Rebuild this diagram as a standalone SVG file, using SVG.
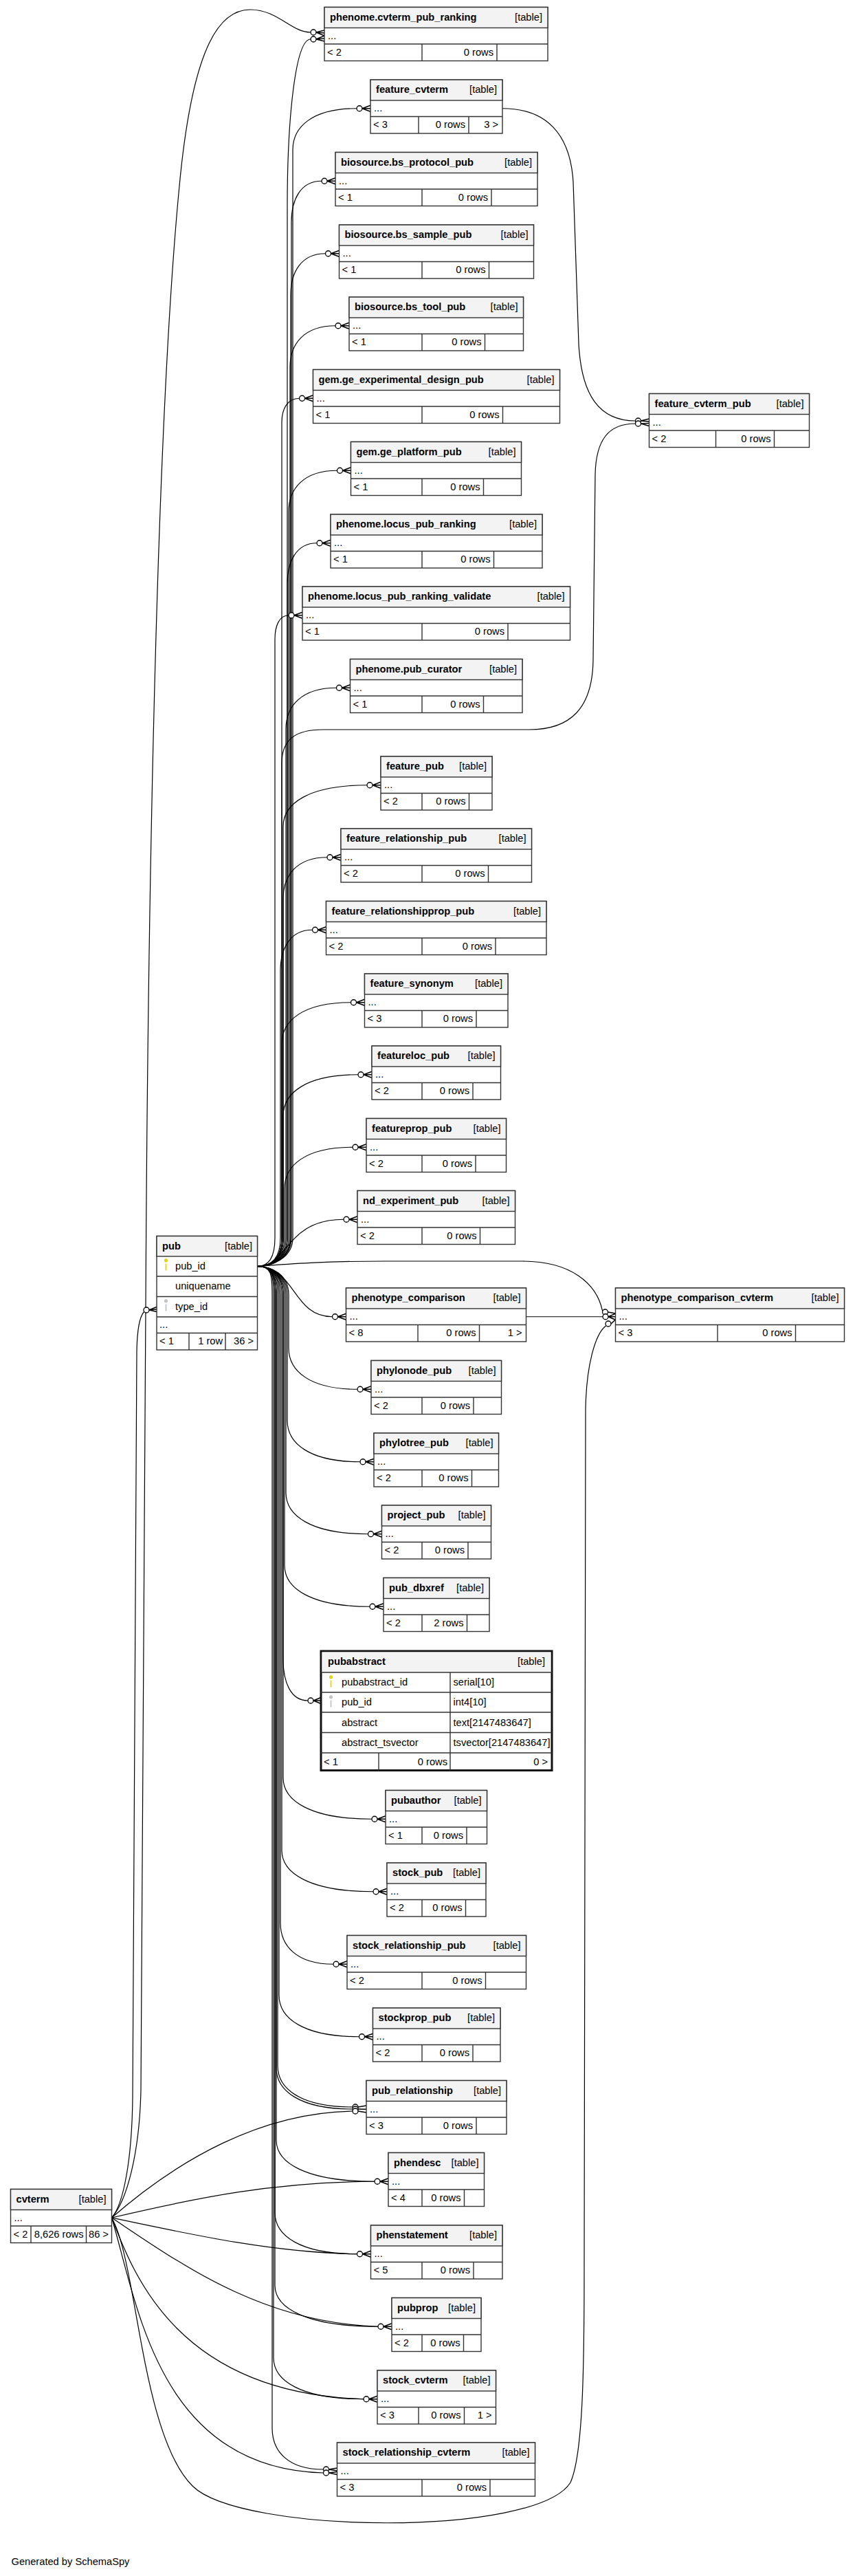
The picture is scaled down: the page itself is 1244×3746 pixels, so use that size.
<svg xmlns="http://www.w3.org/2000/svg" width="1244" height="3746" viewBox="0 0 1244 3746">
<style>
text{font-family:"Liberation Sans",Arial,Helvetica,sans-serif;font-size:14.67px;fill:#000}
.t{font-weight:bold}
.k{text-anchor:end}
.b{fill:#fff;stroke:#333;stroke-width:1.4}
.h{fill:#f3f3f3;stroke:#333;stroke-width:1.4}
.g{fill:none;stroke:#333;stroke-width:1.4}
.bb{fill:#fff;stroke:#111;stroke-width:3}
.e{fill:none;stroke:#000;stroke-width:1.2}
.c{fill:#fff;stroke:#000;stroke-width:1.3}
.cr{fill:none;stroke:#000;stroke-width:1.6}
.ky{fill:#e3d400}
.kg{fill:#c4c4c4}
</style>
<rect width="1244" height="3746" fill="#fff"/>
<g id="connectors">
<path class="e" d="M374.5 1841.5 C395 1841.5 418 1830 418 1800 L418 300 C418 170 430 57 452 57"/>
<path class="e" d="M374.5 1841.5 C395 1841.5 426 1830 426 1800 L426 217.75 C426 184.75 453.9 157.75 519 157.75"/>
<path class="e" d="M374.5 1841.5 C395 1841.5 424 1830 424 1800 L424 323.25 C424 290.25 437.2 263.25 468 263.25"/>
<path class="e" d="M374.5 1841.5 C395 1841.5 423 1830 423 1800 L423 428.75 C423 395.75 438.2 368.75 473.5 368.75"/>
<path class="e" d="M374.5 1841.5 C395 1841.5 422 1830 422 1800 L422 533.75 C422 500.75 441.8 473.75 488 473.75"/>
<path class="e" d="M374.5 1841.5 C395 1841.5 410 1830 410 1800 L410 614.25 C410 595.25 417.7 579.25 435.5 579.25"/>
<path class="e" d="M374.5 1841.5 C395 1841.5 420 1830 420 1800 L420 744.25 C420 711.25 441.2 684.25 490.5 684.25"/>
<path class="e" d="M374.5 1841.5 C395 1841.5 418 1830 418 1800 L418 849.75 C418 816.75 430.9 789.75 461 789.75"/>
<path class="e" d="M374.5 1841.5 C390 1841.5 400 1830 400 1800 L400 929.75 C400 910.75 406 894.75 420 894.75"/>
<path class="e" d="M374.5 1841.5 C395 1841.5 416 1830 416 1800 L416 1060.25 C416 1027.25 438 1000.25 489.5 1000.25"/>
<path class="e" d="M374.5 1841.5 C395 1841.5 412 1830 412 1800 L412 1201.75 C412 1168.75 448.6 1141.75 534 1141.75"/>
<path class="e" d="M374.5 1841.5 C395 1841.5 412 1830 412 1800 L412 1306.75 C412 1273.75 431.2 1246.75 476 1246.75"/>
<path class="e" d="M374.5 1841.5 C395 1841.5 408 1830 408 1800 L408 1412.25 C408 1379.25 422 1352.25 454.5 1352.25"/>
<path class="e" d="M374.5 1841.5 C395 1841.5 410 1830 410 1800 L410 1517.75 C410 1484.75 440.2 1457.75 510.5 1457.75"/>
<path class="e" d="M374.5 1841.5 C395 1841.5 412 1830 412 1800 L412 1622.75 C412 1589.75 444.7 1562.75 521 1562.75"/>
<path class="e" d="M374.5 1841.5 C395 1841.5 414 1830 414 1800 L414 1728.25 C414 1695.25 443.7 1668.25 513 1668.25"/>
<path class="e" d="M374.5 1841.5 C420 1841.5 415 1773.25 500 1773.25"/>
<path class="e" d="M374.5 1841.5 C395 1841.5 410 1830 410 1800 L410 1110 C410 1075 430 1061 470 1061 L770 1061 C830 1061 862 1030 863 960 L866 690 C867 640 885 616 924.5 616"/>
<path class="e" d="M374.5 1841.5 C420 1838 470 1834 560 1834 L760 1834 C830 1834 868 1866 876.5 1906"/>
<path class="e" d="M374.5 1841.5 C430 1841.5 425 1914.75 483.5 1914.75"/>
<path class="e" d="M374.5 1841.5 C395 1841.5 420 1853 420 1883 L420 1960.25 C420 1993.25 450 2020.25 520 2020.25"/>
<path class="e" d="M374.5 1841.5 C395 1841.5 418 1853 418 1883 L418 2065.75 C418 2098.75 449.8 2125.75 524 2125.75"/>
<path class="e" d="M374.5 1841.5 C395 1841.5 416 1853 416 1883 L416 2170.75 C416 2203.75 451.9 2230.75 535.5 2230.75"/>
<path class="e" d="M374.5 1841.5 C395 1841.5 414 1853 414 1883 L414 2276.25 C414 2309.25 451.2 2336.25 538 2336.25"/>
<path class="e" d="M374.5 1841.5 C395 1841.5 412 1853 412 1883 L412 2413 C412 2446 422.8 2473 448 2473"/>
<path class="e" d="M374.5 1841.5 C395 1841.5 412 1853 412 1883 L412 2585.25 C412 2618.25 450.7 2645.25 541 2645.25"/>
<path class="e" d="M374.5 1841.5 C395 1841.5 410 1853 410 1883 L410 2690.75 C410 2723.75 449.9 2750.75 543 2750.75"/>
<path class="e" d="M374.5 1841.5 C395 1841.5 408 1853 408 1883 L408 2796.25 C408 2829.25 431.1 2856.25 485 2856.25"/>
<path class="e" d="M374.5 1841.5 C395 1841.5 406 1853 406 1883 L406 2901.75 C406 2934.75 441 2961.75 522.5 2961.75"/>
<path class="e" d="M374.5 1841.5 C395 1841.5 404 1853 404 1883 L404 3004 C404 3037 436.7 3064 513 3064"/>
<path class="e" d="M374.5 1841.5 C395 1841.5 402 1853 402 1883 L402 3007 C402 3040 435.3 3067 513 3067"/>
<path class="e" d="M374.5 1841.5 C395 1841.5 402 1853 402 1883 L402 3112.25 C402 3145.25 444.9 3172.25 545 3172.25"/>
<path class="e" d="M374.5 1841.5 C395 1841.5 400 1853 400 1883 L400 3217.75 C400 3250.75 435.9 3277.75 519.5 3277.75"/>
<path class="e" d="M374.5 1841.5 C395 1841.5 400 1853 400 1883 L400 3323.25 C400 3356.25 445 3383.25 550 3383.25"/>
<path class="e" d="M374.5 1841.5 C395 1841.5 398 1853 398 1883 L398 3428.75 C398 3461.75 437.3 3488.75 529 3488.75"/>
<path class="e" d="M374.5 1841.5 C395 1841.5 396 1853 396 1883 L396 3531 C396 3564 418.4 3591 470.5 3591"/>
<path class="e" d="M731 157.75 C795 157.75 830 195 834 265 L842 500 C846 575 872 612 924.5 612"/>
<path class="e" d="M765.5 1914.75 L877 1914.75"/>
<path class="e" d="M162.5 3225 C180 3205 192 3140 193 3050 L199 1965 C199.5 1935 203 1915 209.5 1907.5"/>
<path class="e" d="M162.5 3225 C185 3200 203 3130 205 3040 L212 1900 C215 1300 228 600 262 260 C282 60 322 14 364 14 C404 14 424 47 452 47"/>
<path class="e" d="M162.5 3225 C260 3140 380 3072 513 3070"/>
<path class="e" d="M162.5 3225 C290 3195 400 3173 545 3172.25"/>
<path class="e" d="M162.5 3225 C280 3250 400 3276 519.5 3277.75"/>
<path class="e" d="M162.5 3225 C260 3290 380 3378 550 3383.25"/>
<path class="e" d="M162.5 3225 C195 3310 260 3480 529 3488.75"/>
<path class="e" d="M162.5 3225 C200 3350 230 3590 470.5 3596"/>
<path class="e" d="M162.5 3225 C200 3290 205 3540 280 3615 C350 3685 780 3690 830 3610 C848 3570 850 3450 850 3300 L852 2050 C853 1985 866 1940 881.5 1928"/>
<g id="ends">
<circle class="c" cx="456" cy="47" r="4"/><circle class="c" cx="456" cy="57" r="4"/>
<path class="cr" d="M460 47 L472 44 M460 47 L472 48 M460 47 L472 52 M460 57 L472 52 M460 57 L472 56 M460 57 L472 60"/>
<circle class="c" cx="523" cy="157.75" r="4"/><path class="cr" d="M527 157.75 L539 153.25 M527 157.75 L539 157.75 M527 157.75 L539 162.25"/>
<circle class="c" cx="472" cy="263.25" r="4"/><path class="cr" d="M476 263.25 L488 258.75 M476 263.25 L488 263.25 M476 263.25 L488 267.75"/>
<circle class="c" cx="477.5" cy="368.75" r="4"/><path class="cr" d="M481.5 368.75 L493.5 364.25 M481.5 368.75 L493.5 368.75 M481.5 368.75 L493.5 373.25"/>
<circle class="c" cx="492" cy="473.75" r="4"/><path class="cr" d="M496 473.75 L508 469.25 M496 473.75 L508 473.75 M496 473.75 L508 478.25"/>
<circle class="c" cx="439.5" cy="579.25" r="4"/><path class="cr" d="M443.5 579.25 L455.5 574.75 M443.5 579.25 L455.5 579.25 M443.5 579.25 L455.5 583.75"/>
<circle class="c" cx="494.5" cy="684.25" r="4"/><path class="cr" d="M498.5 684.25 L510.5 679.75 M498.5 684.25 L510.5 684.25 M498.5 684.25 L510.5 688.75"/>
<circle class="c" cx="465" cy="789.75" r="4"/><path class="cr" d="M469 789.75 L481 785.25 M469 789.75 L481 789.75 M469 789.75 L481 794.25"/>
<circle class="c" cx="424" cy="894.75" r="4"/><path class="cr" d="M428 894.75 L440 890.25 M428 894.75 L440 894.75 M428 894.75 L440 899.25"/>
<circle class="c" cx="493.5" cy="1000.25" r="4"/><path class="cr" d="M497.5 1000.25 L509.5 995.75 M497.5 1000.25 L509.5 1000.25 M497.5 1000.25 L509.5 1004.75"/>
<circle class="c" cx="538" cy="1141.75" r="4"/><path class="cr" d="M542 1141.75 L554 1137.25 M542 1141.75 L554 1141.75 M542 1141.75 L554 1146.25"/>
<circle class="c" cx="480" cy="1246.75" r="4"/><path class="cr" d="M484 1246.75 L496 1242.25 M484 1246.75 L496 1246.75 M484 1246.75 L496 1251.25"/>
<circle class="c" cx="458.5" cy="1352.25" r="4"/><path class="cr" d="M462.5 1352.25 L474.5 1347.75 M462.5 1352.25 L474.5 1352.25 M462.5 1352.25 L474.5 1356.75"/>
<circle class="c" cx="514.5" cy="1457.75" r="4"/><path class="cr" d="M518.5 1457.75 L530.5 1453.25 M518.5 1457.75 L530.5 1457.75 M518.5 1457.75 L530.5 1462.25"/>
<circle class="c" cx="525" cy="1562.75" r="4"/><path class="cr" d="M529 1562.75 L541 1558.25 M529 1562.75 L541 1562.75 M529 1562.75 L541 1567.25"/>
<circle class="c" cx="517" cy="1668.25" r="4"/><path class="cr" d="M521 1668.25 L533 1663.75 M521 1668.25 L533 1668.25 M521 1668.25 L533 1672.75"/>
<circle class="c" cx="504" cy="1773.25" r="4"/><path class="cr" d="M508 1773.25 L520 1768.75 M508 1773.25 L520 1773.25 M508 1773.25 L520 1777.75"/>
<circle class="c" cx="928.5" cy="612" r="4"/><circle class="c" cx="928.5" cy="616" r="4"/>
<path class="cr" d="M932.5 612 L944.5 609 M932.5 612 L944.5 613 M932.5 616 L944.5 615.5 M932.5 616 L944.5 619.5"/>
<circle class="c" cx="487.5" cy="1914.75" r="4"/><path class="cr" d="M491.5 1914.75 L503.5 1910.25 M491.5 1914.75 L503.5 1914.75 M491.5 1914.75 L503.5 1919.25"/>
<circle class="c" cx="880.5" cy="1908" r="4"/><circle class="c" cx="881" cy="1914.75" r="4"/><circle class="c" cx="885" cy="1925" r="4"/>
<path class="cr" d="M884.5 1908 L895.5 1910 M885 1914.75 L895.5 1910.25 M885 1914.75 L895.5 1914.75 M885 1914.75 L895.5 1919.25 M889 1925 L895.5 1919"/>
<circle class="c" cx="524" cy="2020.25" r="4"/><path class="cr" d="M528 2020.25 L540 2015.75 M528 2020.25 L540 2020.25 M528 2020.25 L540 2024.75"/>
<circle class="c" cx="528" cy="2125.75" r="4"/><path class="cr" d="M532 2125.75 L544 2121.25 M532 2125.75 L544 2125.75 M532 2125.75 L544 2130.25"/>
<circle class="c" cx="539.5" cy="2230.75" r="4"/><path class="cr" d="M543.5 2230.75 L555.5 2226.25 M543.5 2230.75 L555.5 2230.75 M543.5 2230.75 L555.5 2235.25"/>
<circle class="c" cx="542" cy="2336.25" r="4"/><path class="cr" d="M546 2336.25 L558 2331.75 M546 2336.25 L558 2336.25 M546 2336.25 L558 2340.75"/>
<circle class="c" cx="452" cy="2473" r="4"/><path class="cr" d="M456 2473 L467 2468.5 M456 2473 L467 2473 M456 2473 L467 2477.5"/>
<circle class="c" cx="545" cy="2645.25" r="4"/><path class="cr" d="M549 2645.25 L561 2640.75 M549 2645.25 L561 2645.25 M549 2645.25 L561 2649.75"/>
<circle class="c" cx="547" cy="2750.75" r="4"/><path class="cr" d="M551 2750.75 L563 2746.25 M551 2750.75 L563 2750.75 M551 2750.75 L563 2755.25"/>
<circle class="c" cx="489" cy="2856.25" r="4"/><path class="cr" d="M493 2856.25 L505 2851.75 M493 2856.25 L505 2856.25 M493 2856.25 L505 2860.75"/>
<circle class="c" cx="526.5" cy="2961.75" r="4"/><path class="cr" d="M530.5 2961.75 L542.5 2957.25 M530.5 2961.75 L542.5 2961.75 M530.5 2961.75 L542.5 2966.25"/>
<circle class="c" cx="517" cy="3064" r="4"/><circle class="c" cx="517" cy="3067" r="4"/><circle class="c" cx="517" cy="3070" r="4"/>
<path class="cr" d="M521 3064 L533 3062 M521 3067 L533 3067.25 M521 3070 L533 3072"/>
<circle class="c" cx="549" cy="3172.25" r="4"/><path class="cr" d="M553 3172.25 L565 3167.75 M553 3172.25 L565 3172.25 M553 3172.25 L565 3176.75"/>
<circle class="c" cx="523.5" cy="3277.75" r="4"/><path class="cr" d="M527.5 3277.75 L539.5 3273.25 M527.5 3277.75 L539.5 3277.75 M527.5 3277.75 L539.5 3282.25"/>
<circle class="c" cx="554" cy="3383.25" r="4"/><path class="cr" d="M558 3383.25 L570 3378.75 M558 3383.25 L570 3383.25 M558 3383.25 L570 3387.75"/>
<circle class="c" cx="533" cy="3488.75" r="4"/><path class="cr" d="M537 3488.75 L549 3484.25 M537 3488.75 L549 3488.75 M537 3488.75 L549 3493.25"/>
<circle class="c" cx="474.5" cy="3591" r="4"/><circle class="c" cx="474.5" cy="3596" r="4"/>
<path class="cr" d="M478.5 3591 L490.5 3589 M478.5 3591 L490.5 3593 M478.5 3596 L490.5 3594.5 M478.5 3596 L490.5 3598.5"/>
<circle class="c" cx="213" cy="1905" r="4"/><path class="cr" d="M217 1905 L228 1900.5 M217 1905 L228 1904 M217 1905 L228 1907.5"/>
</g>
</g>

<g id="n-phenome-cvterm_pub_ranking"><rect class="b" x="472" y="10.5" width="325" height="78"/><rect class="h" x="472" y="10.5" width="325" height="30"/><path class="g" d="M472 64H797M614 64V88.5M723 64V88.5"/><text class="t" x="480" y="29.5">phenome.cvterm_pub_ranking</text><text class="k" x="789" y="29.5">[table]</text><text x="477" y="56.5">...</text><text x="476" y="80.5">&lt; 2</text><text class="k" x="718" y="80.5">0 rows</text></g>
<g id="n-feature_cvterm"><rect class="b" x="539" y="116" width="192" height="78"/><rect class="h" x="539" y="116" width="192" height="30"/><path class="g" d="M539 169.5H731M609 169.5V194M682 169.5V194"/><text class="t" x="547" y="135">feature_cvterm</text><text class="k" x="723" y="135">[table]</text><text x="544" y="162">...</text><text x="543" y="186">&lt; 3</text><text class="k" x="677" y="186">0 rows</text><text class="k" x="725" y="186">3 &gt;</text></g>
<g id="n-bs_protocol_pub"><rect class="b" x="488" y="221.5" width="294" height="78"/><rect class="h" x="488" y="221.5" width="294" height="30"/><path class="g" d="M488 275H782M614 275V299.5M715 275V299.5"/><text class="t" x="496" y="240.5">biosource.bs_protocol_pub</text><text class="k" x="774" y="240.5">[table]</text><text x="493" y="267.5">...</text><text x="492" y="291.5">&lt; 1</text><text class="k" x="710" y="291.5">0 rows</text></g>
<g id="n-bs_sample_pub"><rect class="b" x="493.5" y="327" width="283" height="78"/><rect class="h" x="493.5" y="327" width="283" height="30"/><path class="g" d="M493.5 380.5H776.5M614 380.5V405M711.5 380.5V405"/><text class="t" x="501.5" y="346">biosource.bs_sample_pub</text><text class="k" x="768.5" y="346">[table]</text><text x="498.5" y="373">...</text><text x="497.5" y="397">&lt; 1</text><text class="k" x="706.5" y="397">0 rows</text></g>
<g id="n-bs_tool_pub"><rect class="b" x="508" y="432" width="253.5" height="78"/><rect class="h" x="508" y="432" width="253.5" height="30"/><path class="g" d="M508 485.5H761.5M614 485.5V510M705.5 485.5V510"/><text class="t" x="516" y="451">biosource.bs_tool_pub</text><text class="k" x="753.5" y="451">[table]</text><text x="513" y="478">...</text><text x="512" y="502">&lt; 1</text><text class="k" x="700.5" y="502">0 rows</text></g>
<g id="n-ge_experimental_design_pub"><rect class="b" x="455.5" y="537.5" width="359" height="78"/><rect class="h" x="455.5" y="537.5" width="359" height="30"/><path class="g" d="M455.5 591H814.5M614 591V615.5M731.5 591V615.5"/><text class="t" x="463.5" y="556.5">gem.ge_experimental_design_pub</text><text class="k" x="806.5" y="556.5">[table]</text><text x="460.5" y="583.5">...</text><text x="459.5" y="607.5">&lt; 1</text><text class="k" x="726.5" y="607.5">0 rows</text></g>
<g id="n-ge_platform_pub"><rect class="b" x="510.5" y="642.5" width="248" height="78"/><rect class="h" x="510.5" y="642.5" width="248" height="30"/><path class="g" d="M510.5 696H758.5M614 696V720.5M703.5 696V720.5"/><text class="t" x="518.5" y="661.5">gem.ge_platform_pub</text><text class="k" x="750.5" y="661.5">[table]</text><text x="515.5" y="688.5">...</text><text x="514.5" y="712.5">&lt; 1</text><text class="k" x="698.5" y="712.5">0 rows</text></g>
<g id="n-locus_pub_ranking"><rect class="b" x="481" y="748" width="308" height="78"/><rect class="h" x="481" y="748" width="308" height="30"/><path class="g" d="M481 801.5H789M614 801.5V826M718.5 801.5V826"/><text class="t" x="489" y="767">phenome.locus_pub_ranking</text><text class="k" x="781" y="767">[table]</text><text x="486" y="794">...</text><text x="485" y="818">&lt; 1</text><text class="k" x="713.5" y="818">0 rows</text></g>
<g id="n-locus_pub_ranking_validate"><rect class="b" x="440" y="853" width="389.5" height="78"/><rect class="h" x="440" y="853" width="389.5" height="30"/><path class="g" d="M440 906.5H829.5M614 906.5V931M739 906.5V931"/><text class="t" x="448" y="872">phenome.locus_pub_ranking_validate</text><text class="k" x="821.5" y="872">[table]</text><text x="445" y="899">...</text><text x="444" y="923">&lt; 1</text><text class="k" x="734" y="923">0 rows</text></g>
<g id="n-pub_curator"><rect class="b" x="509.5" y="958.5" width="250.5" height="78"/><rect class="h" x="509.5" y="958.5" width="250.5" height="30"/><path class="g" d="M509.5 1012H760M614 1012V1036.5M703.5 1012V1036.5"/><text class="t" x="517.5" y="977.5">phenome.pub_curator</text><text class="k" x="752" y="977.5">[table]</text><text x="514.5" y="1004.5">...</text><text x="513.5" y="1028.5">&lt; 1</text><text class="k" x="698.5" y="1028.5">0 rows</text></g>
<g id="n-feature_pub"><rect class="b" x="554" y="1100" width="162" height="78"/><rect class="h" x="554" y="1100" width="162" height="30"/><path class="g" d="M554 1153.5H716M614 1153.5V1178M682.5 1153.5V1178"/><text class="t" x="562" y="1119">feature_pub</text><text class="k" x="708" y="1119">[table]</text><text x="559" y="1146">...</text><text x="558" y="1170">&lt; 2</text><text class="k" x="677.5" y="1170">0 rows</text></g>
<g id="n-feature_relationship_pub"><rect class="b" x="496" y="1205" width="277.5" height="78"/><rect class="h" x="496" y="1205" width="277.5" height="30"/><path class="g" d="M496 1258.5H773.5M614 1258.5V1283M710.5 1258.5V1283"/><text class="t" x="504" y="1224">feature_relationship_pub</text><text class="k" x="765.5" y="1224">[table]</text><text x="501" y="1251">...</text><text x="500" y="1275">&lt; 2</text><text class="k" x="705.5" y="1275">0 rows</text></g>
<g id="n-feature_relationshipprop_pub"><rect class="b" x="474.5" y="1310.5" width="320.5" height="78"/><rect class="h" x="474.5" y="1310.5" width="320.5" height="30"/><path class="g" d="M474.5 1364H795M614 1364V1388.5M721 1364V1388.5"/><text class="t" x="482.5" y="1329.5">feature_relationshipprop_pub</text><text class="k" x="787" y="1329.5">[table]</text><text x="479.5" y="1356.5">...</text><text x="478.5" y="1380.5">&lt; 2</text><text class="k" x="716" y="1380.5">0 rows</text></g>
<g id="n-feature_synonym"><rect class="b" x="530.5" y="1416" width="208.5" height="78"/><rect class="h" x="530.5" y="1416" width="208.5" height="30"/><path class="g" d="M530.5 1469.5H739M614 1469.5V1494M693 1469.5V1494"/><text class="t" x="538.5" y="1435">feature_synonym</text><text class="k" x="731" y="1435">[table]</text><text x="535.5" y="1462">...</text><text x="534.5" y="1486">&lt; 3</text><text class="k" x="688" y="1486">0 rows</text></g>
<g id="n-featureloc_pub"><rect class="b" x="541" y="1521" width="187.5" height="78"/><rect class="h" x="541" y="1521" width="187.5" height="30"/><path class="g" d="M541 1574.5H728.5M614 1574.5V1599M688 1574.5V1599"/><text class="t" x="549" y="1540">featureloc_pub</text><text class="k" x="720.5" y="1540">[table]</text><text x="546" y="1567">...</text><text x="545" y="1591">&lt; 2</text><text class="k" x="683" y="1591">0 rows</text></g>
<g id="n-featureprop_pub"><rect class="b" x="533" y="1626.5" width="203.5" height="78"/><rect class="h" x="533" y="1626.5" width="203.5" height="30"/><path class="g" d="M533 1680H736.5M614 1680V1704.5M692 1680V1704.5"/><text class="t" x="541" y="1645.5">featureprop_pub</text><text class="k" x="728.5" y="1645.5">[table]</text><text x="538" y="1672.5">...</text><text x="537" y="1696.5">&lt; 2</text><text class="k" x="687" y="1696.5">0 rows</text></g>
<g id="n-nd_experiment_pub"><rect class="b" x="520" y="1731.5" width="229.5" height="78"/><rect class="h" x="520" y="1731.5" width="229.5" height="30"/><path class="g" d="M520 1785H749.5M614 1785V1809.5M698.5 1785V1809.5"/><text class="t" x="528" y="1750.5">nd_experiment_pub</text><text class="k" x="741.5" y="1750.5">[table]</text><text x="525" y="1777.5">...</text><text x="524" y="1801.5">&lt; 2</text><text class="k" x="693.5" y="1801.5">0 rows</text></g>
<g id="n-phenotype_comparison"><rect class="b" x="503.5" y="1873" width="262" height="78"/><rect class="h" x="503.5" y="1873" width="262" height="30"/><path class="g" d="M503.5 1926.5H765.5M608 1926.5V1951M697.5 1926.5V1951"/><text class="t" x="511.5" y="1892">phenotype_comparison</text><text class="k" x="757.5" y="1892">[table]</text><text x="508.5" y="1919">...</text><text x="507.5" y="1943">&lt; 8</text><text class="k" x="692.5" y="1943">0 rows</text><text class="k" x="759.5" y="1943">1 &gt;</text></g>
<g id="n-phylonode_pub"><rect class="b" x="540" y="1978.5" width="189.5" height="78"/><rect class="h" x="540" y="1978.5" width="189.5" height="30"/><path class="g" d="M540 2032H729.5M614 2032V2056.5M689 2032V2056.5"/><text class="t" x="548" y="1997.5">phylonode_pub</text><text class="k" x="721.5" y="1997.5">[table]</text><text x="545" y="2024.5">...</text><text x="544" y="2048.5">&lt; 2</text><text class="k" x="684" y="2048.5">0 rows</text></g>
<g id="n-phylotree_pub"><rect class="b" x="544" y="2084" width="181.5" height="78"/><rect class="h" x="544" y="2084" width="181.5" height="30"/><path class="g" d="M544 2137.5H725.5M614 2137.5V2162M686.5 2137.5V2162"/><text class="t" x="552" y="2103">phylotree_pub</text><text class="k" x="717.5" y="2103">[table]</text><text x="549" y="2130">...</text><text x="548" y="2154">&lt; 2</text><text class="k" x="681.5" y="2154">0 rows</text></g>
<g id="n-project_pub"><rect class="b" x="555.5" y="2189" width="159" height="78"/><rect class="h" x="555.5" y="2189" width="159" height="30"/><path class="g" d="M555.5 2242.5H714.5M614 2242.5V2267M681 2242.5V2267"/><text class="t" x="563.5" y="2208">project_pub</text><text class="k" x="706.5" y="2208">[table]</text><text x="560.5" y="2235">...</text><text x="559.5" y="2259">&lt; 2</text><text class="k" x="676" y="2259">0 rows</text></g>
<g id="n-pub_dbxref"><rect class="b" x="558" y="2294.5" width="154" height="78"/><rect class="h" x="558" y="2294.5" width="154" height="30"/><path class="g" d="M558 2348H712M614 2348V2372.5M679.5 2348V2372.5"/><text class="t" x="566" y="2313.5">pub_dbxref</text><text class="k" x="704" y="2313.5">[table]</text><text x="563" y="2340.5">...</text><text x="562" y="2364.5">&lt; 2</text><text class="k" x="674.5" y="2364.5">2 rows</text></g>
<g id="n-pubabstract"><rect class="bb" x="467" y="2401" width="336" height="173.5"/><rect x="468.5" y="2402.5" width="333" height="29.5" fill="#f3f3f3"/><path class="g" d="M467 2432H803M467 2461H803M467 2490H803M467 2519.5H803M467 2549H803M655 2432V2574.5M551 2549V2574.5"/><text class="t" x="477" y="2421">pubabstract</text><text class="k" x="793" y="2421">[table]</text><path class="ky" d="M481.5 2441.5a2.6 2.6 0 1 1 0.01 0M480.6 2443.5h1.8v10h-1.8z"/><text x="497" y="2451">pubabstract_id</text><text x="659.5" y="2451">serial[10]</text><path class="kg" d="M481.5 2470.5a2.6 2.6 0 1 1 0.01 0M480.6 2472.5h1.8v10h-1.8z"/><text x="497" y="2480">pub_id</text><text x="659.5" y="2480">int4[10]</text><text x="497" y="2509.5">abstract</text><text x="659.5" y="2509.5">text[2147483647]</text><text x="497" y="2539">abstract_tsvector</text><text x="659.5" y="2539">tsvector[2147483647]</text><text x="471" y="2566.5">&lt; 1</text><text class="k" x="651" y="2566.5">0 rows</text><text class="k" x="797" y="2566.5">0 &gt;</text></g>
<g id="n-pubauthor"><rect class="b" x="561" y="2603.5" width="147.5" height="78"/><rect class="h" x="561" y="2603.5" width="147.5" height="30"/><path class="g" d="M561 2657H708.5M614 2657V2681.5M679 2657V2681.5"/><text class="t" x="569" y="2622.5">pubauthor</text><text class="k" x="700.5" y="2622.5">[table]</text><text x="566" y="2649.5">...</text><text x="565" y="2673.5">&lt; 1</text><text class="k" x="674" y="2673.5">0 rows</text></g>
<g id="n-stock_pub"><rect class="b" x="563" y="2709" width="144" height="78"/><rect class="h" x="563" y="2709" width="144" height="30"/><path class="g" d="M563 2762.5H707M614 2762.5V2787M677.5 2762.5V2787"/><text class="t" x="571" y="2728">stock_pub</text><text class="k" x="699" y="2728">[table]</text><text x="568" y="2755">...</text><text x="567" y="2779">&lt; 2</text><text class="k" x="672.5" y="2779">0 rows</text></g>
<g id="n-stock_relationship_pub"><rect class="b" x="505" y="2814.5" width="260.5" height="78"/><rect class="h" x="505" y="2814.5" width="260.5" height="30"/><path class="g" d="M505 2868H765.5M614 2868V2892.5M706.5 2868V2892.5"/><text class="t" x="513" y="2833.5">stock_relationship_pub</text><text class="k" x="757.5" y="2833.5">[table]</text><text x="510" y="2860.5">...</text><text x="509" y="2884.5">&lt; 2</text><text class="k" x="701.5" y="2884.5">0 rows</text></g>
<g id="n-stockprop_pub"><rect class="b" x="542.5" y="2920" width="185.5" height="78"/><rect class="h" x="542.5" y="2920" width="185.5" height="30"/><path class="g" d="M542.5 2973.5H728M614 2973.5V2998M688 2973.5V2998"/><text class="t" x="550.5" y="2939">stockprop_pub</text><text class="k" x="720" y="2939">[table]</text><text x="547.5" y="2966">...</text><text x="546.5" y="2990">&lt; 2</text><text class="k" x="683" y="2990">0 rows</text></g>
<g id="n-pub_relationship"><rect class="b" x="533" y="3025.5" width="204" height="78"/><rect class="h" x="533" y="3025.5" width="204" height="30"/><path class="g" d="M533 3079H737M614 3079V3103.5M693 3079V3103.5"/><text class="t" x="541" y="3044.5">pub_relationship</text><text class="k" x="729" y="3044.5">[table]</text><text x="538" y="3071.5">...</text><text x="537" y="3095.5">&lt; 3</text><text class="k" x="688" y="3095.5">0 rows</text></g>
<g id="n-phendesc"><rect class="b" x="565" y="3130.5" width="139.5" height="78"/><rect class="h" x="565" y="3130.5" width="139.5" height="30"/><path class="g" d="M565 3184H704.5M614 3184V3208.5M675.5 3184V3208.5"/><text class="t" x="573" y="3149.5">phendesc</text><text class="k" x="696.5" y="3149.5">[table]</text><text x="570" y="3176.5">...</text><text x="569" y="3200.5">&lt; 4</text><text class="k" x="670.5" y="3200.5">0 rows</text></g>
<g id="n-phenstatement"><rect class="b" x="539.5" y="3236" width="191.5" height="78"/><rect class="h" x="539.5" y="3236" width="191.5" height="30"/><path class="g" d="M539.5 3289.5H731M614 3289.5V3314M689 3289.5V3314"/><text class="t" x="547.5" y="3255">phenstatement</text><text class="k" x="723" y="3255">[table]</text><text x="544.5" y="3282">...</text><text x="543.5" y="3306">&lt; 5</text><text class="k" x="684" y="3306">0 rows</text></g>
<g id="n-pubprop"><rect class="b" x="570" y="3341.5" width="130" height="78"/><rect class="h" x="570" y="3341.5" width="130" height="30"/><path class="g" d="M570 3395H700M614 3395V3419.5M674.5 3395V3419.5"/><text class="t" x="578" y="3360.5">pubprop</text><text class="k" x="692" y="3360.5">[table]</text><text x="575" y="3387.5">...</text><text x="574" y="3411.5">&lt; 2</text><text class="k" x="669.5" y="3411.5">0 rows</text></g>
<g id="n-stock_cvterm"><rect class="b" x="549" y="3447" width="172.5" height="78"/><rect class="h" x="549" y="3447" width="172.5" height="30"/><path class="g" d="M549 3500.5H721.5M609 3500.5V3525M675.5 3500.5V3525"/><text class="t" x="557" y="3466">stock_cvterm</text><text class="k" x="713.5" y="3466">[table]</text><text x="554" y="3493">...</text><text x="553" y="3517">&lt; 3</text><text class="k" x="670.5" y="3517">0 rows</text><text class="k" x="715.5" y="3517">1 &gt;</text></g>
<g id="n-stock_relationship_cvterm"><rect class="b" x="490.5" y="3552" width="288" height="78"/><rect class="h" x="490.5" y="3552" width="288" height="30"/><path class="g" d="M490.5 3605.5H778.5M614 3605.5V3630M713 3605.5V3630"/><text class="t" x="498.5" y="3571">stock_relationship_cvterm</text><text class="k" x="770.5" y="3571">[table]</text><text x="495.5" y="3598">...</text><text x="494.5" y="3622">&lt; 3</text><text class="k" x="708" y="3622">0 rows</text></g>
<g id="n-feature_cvterm_pub"><rect class="b" x="944.5" y="572.5" width="233" height="78"/><rect class="h" x="944.5" y="572.5" width="233" height="30"/><path class="g" d="M944.5 626H1177.5M1041.5 626V650.5M1126.5 626V650.5"/><text class="t" x="952.5" y="591.5">feature_cvterm_pub</text><text class="k" x="1169.5" y="591.5">[table]</text><text x="949.5" y="618.5">...</text><text x="948.5" y="642.5">&lt; 2</text><text class="k" x="1121.5" y="642.5">0 rows</text></g>
<g id="n-phenotype_comparison_cvterm"><rect class="b" x="895.5" y="1873" width="333" height="78"/><rect class="h" x="895.5" y="1873" width="333" height="30"/><path class="g" d="M895.5 1926.5H1228.5M1044 1926.5V1951M1157.5 1926.5V1951"/><text class="t" x="903.5" y="1892">phenotype_comparison_cvterm</text><text class="k" x="1220.5" y="1892">[table]</text><text x="900.5" y="1919">...</text><text x="899.5" y="1943">&lt; 3</text><text class="k" x="1152.5" y="1943">0 rows</text></g>
<g id="n-pub"><rect class="b" x="228" y="1797.5" width="146.5" height="165.5"/><rect class="h" x="228" y="1797.5" width="146.5" height="29.5"/><path class="g" d="M228 1856H374.5M228 1885.5H374.5M228 1915H374.5M228 1938.5H374.5M275 1938.5V1963M328 1938.5V1963"/><text class="t" x="236" y="1816.5">pub</text><text class="k" x="367" y="1816.5">[table]</text><path class="ky" d="M241.5 1835.5a2.6 2.6 0 1 1 0.01 0M240.6 1837.5h1.8v10h-1.8z"/><text x="255" y="1846">pub_id</text><text x="255" y="1875">uniquename</text><path class="kg" d="M241.5 1894.5a2.6 2.6 0 1 1 0.01 0M240.6 1896.5h1.8v10h-1.8z"/><text x="255" y="1904.5">type_id</text><text x="232" y="1931">...</text><text x="232" y="1955">&lt; 1</text><text class="k" x="324" y="1955">1 row</text><text class="k" x="369" y="1955">36 &gt;</text></g>
<g id="n-cvterm"><rect class="b" x="15.5" y="3183.5" width="147" height="78"/><rect class="h" x="15.5" y="3183.5" width="147" height="30"/><path class="g" d="M15.5 3237H162.5M45 3237V3261.5M125.5 3237V3261.5"/><text class="t" x="23.5" y="3202.5">cvterm</text><text class="k" x="154.5" y="3202.5">[table]</text><text x="20.5" y="3229.5">...</text><text x="19.5" y="3253.5">&lt; 2</text><text class="k" x="121.5" y="3253.5">8,626 rows</text><text class="k" x="158" y="3253.5">86 &gt;</text></g>
<text x="16.5" y="3730">Generated by SchemaSpy</text>
</svg>
